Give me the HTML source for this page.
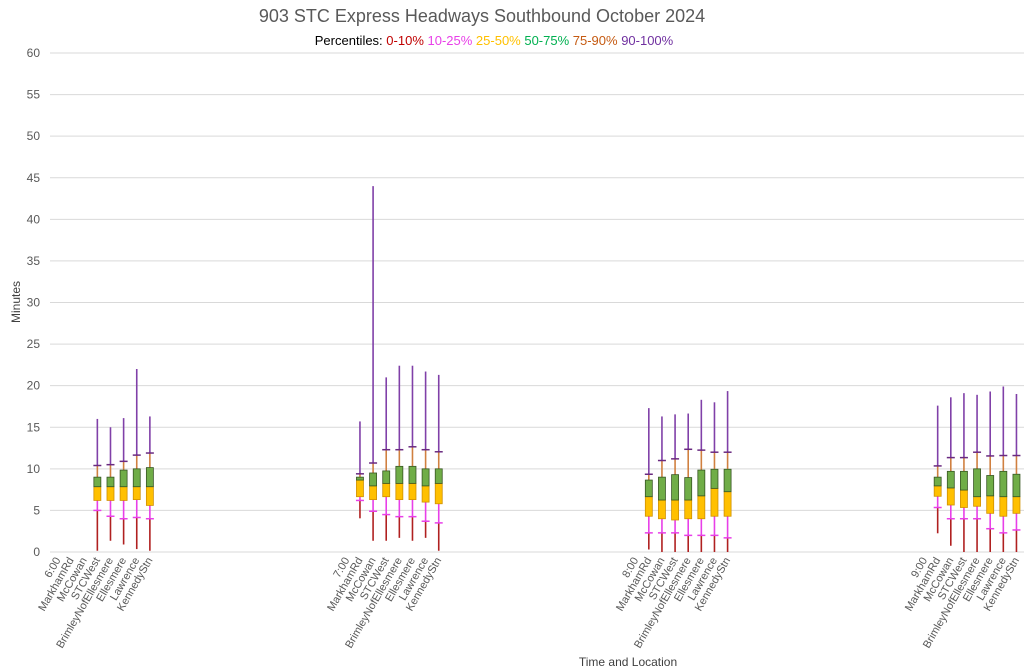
<!DOCTYPE html>
<html><head><meta charset="utf-8"><style>
html,body{margin:0;padding:0;background:#fff;}
svg{display:block;font-family:"Liberation Sans",sans-serif;}
</style></head><body>
<svg id="chart" width="1024" height="670" xmlns="http://www.w3.org/2000/svg">
<text x="482" y="22" text-anchor="middle" font-size="18" fill="#595959">903 STC Express Headways Southbound October 2024</text>
<text x="494" y="45" text-anchor="middle" font-size="13"><tspan fill="#000">Percentiles:  </tspan><tspan fill="#C00000">0-10%  </tspan><tspan fill="#E83FE8">10-25%  </tspan><tspan fill="#FFC000">25-50%  </tspan><tspan fill="#00B050">50-75%  </tspan><tspan fill="#C55A11">75-90%  </tspan><tspan fill="#7030A0">90-100%</tspan></text>
<text transform="translate(20,302) rotate(-90)" text-anchor="middle" font-size="12" fill="#404040">Minutes</text>
<text x="628" y="666" text-anchor="middle" font-size="12" fill="#404040">Time and Location</text>
<g id="grid"></g><g id="marks"></g><g id="xlabels"></g>
</svg>
<script>
const yTicks=[0,5,10,15,20,25,30,35,40,45,50,55,60];
const hours=["6:00","7:00","8:00","9:00"];
const stops=["MarkhamRd","McCowan","STCWest","BrimleyNofEllesmere","Ellesmere","Lawrence","KennedyStn"];
// per box: hour index, stop index
const boxHour=[0,0,0,0,0, 1,1,1,1,1,1,1, 2,2,2,2,2,2,2, 3,3,3,3,3,3,3];
const boxStop=[2,3,4,5,6, 0,1,2,3,4,5,6, 0,1,2,3,4,5,6, 0,1,2,3,4,5,6];
const p0  =[0.15,1.35,0.9,0.35,0.15, 4.05,1.35,1.35,1.7,1.35,1.7,0.15, 0.3,0,0,0,0,0,0, 2.25,0.75,0,0,0,0,0];
const p10 =[5.0,4.3,4.0,4.15,4.0, 6.2,4.9,4.5,4.25,4.25,3.7,3.5, 2.3,2.3,2.3,2.0,2.0,2.0,1.7, 5.35,4.0,4.0,4.0,2.8,2.3,2.65];
const p25 =[6.2,6.2,6.2,6.3,5.6, 6.65,6.3,6.65,6.3,6.3,6.0,5.8, 4.3,4.0,3.85,4.0,4.0,4.3,4.3, 6.7,5.65,5.35,5.5,4.65,4.3,4.65];
const p50 =[7.85,7.85,7.85,7.85,7.85, 8.65,7.95,8.25,8.25,8.25,7.95,8.25, 6.65,6.25,6.25,6.25,6.75,7.65,7.25, 7.95,7.7,7.45,6.65,6.75,6.65,6.65];
const p75 =[9.0,9.0,9.85,10.0,10.15, 9.0,9.5,9.75,10.3,10.3,10.0,10.0, 8.65,9.0,9.3,8.95,9.85,9.95,9.95, 9.0,9.7,9.7,10.0,9.2,9.7,9.35];
const p90 =[10.4,10.5,10.9,11.65,11.9, 9.4,10.7,12.3,12.3,12.65,12.3,12.05, 9.35,11.0,11.2,12.35,12.25,12.0,12.0, 10.35,11.35,11.35,12.0,11.55,11.6,11.6];
const p100=[16.0,15.0,16.1,22.0,16.3, 15.7,44.0,21.0,22.4,22.4,21.7,21.3, 17.3,16.3,16.55,16.65,18.3,18.0,19.35, 17.6,18.6,19.1,18.9,19.3,19.9,19.0];

const NS="http://www.w3.org/2000/svg";
const X0=51.4, CW=13.13, GROUP=22, Y0=552, YS=(552-53)/60;
const y=v=>Y0-v*YS;
const catIndex=(h,s)=>h*GROUP+(s<0?0:s+1);
const x=i=>X0+(i+0.5)*CW;
function mk(tag,attrs,parent){const e=document.createElementNS(NS,tag);for(const k in attrs)e.setAttribute(k,attrs[k]);parent.appendChild(e);return e;}
const grid=document.getElementById('grid'),marks=document.getElementById('marks'),xl=document.getElementById('xlabels');
yTicks.forEach(t=>{
  const l=mk('line',{x1:50,x2:1024,y1:y(t),y2:y(t),stroke:'#d9d9d9','stroke-width':1},grid);
  
  
  const tx=mk('text',{x:40,y:y(t)+4,'text-anchor':'end','font-size':12,fill:'#595959'},grid);
  tx.textContent=t;
  
  
});
function label(i,txt){
  const cx=x(i)+3, cy=560;
  const t=mk('text',{transform:`translate(${cx},${cy}) rotate(-60)`,'text-anchor':'end','font-size':11,fill:'#595959'},xl);
  t.textContent=txt;
  
  
}
hours.forEach((h,hi)=>{label(catIndex(hi,-1),h);stops.forEach((s,si)=>label(catIndex(hi,si),s));});
boxHour.forEach((h,k)=>{
  const cx=x(catIndex(h,boxStop[k]));
  const g=mk('g',{},marks);
  
  
  const seg=(a,b,c)=>mk('line',{x1:cx,x2:cx,y1:y(a),y2:y(b),stroke:c,'stroke-width':1.6},g);
  seg(p0[k],p10[k],'#B02020');
  seg(p10[k],p25[k],'#E83FE8');
  seg(p75[k],p90[k],'#D08040');
  seg(p90[k],p100[k],'#8040A8');
  mk('line',{x1:cx-4,x2:cx+4,y1:y(p10[k]),y2:y(p10[k]),stroke:'#E83FE8','stroke-width':1.5},g);
  mk('line',{x1:cx-4,x2:cx+4,y1:y(p90[k]),y2:y(p90[k]),stroke:'#6A2A80','stroke-width':1.5},g);
  mk('rect',{x:cx-3.5,y:y(p50[k]),width:7,height:y(p25[k])-y(p50[k]),fill:'#FFC000',stroke:'#D09000','stroke-width':0.8},g);
  mk('rect',{x:cx-3.5,y:y(p75[k]),width:7,height:y(p50[k])-y(p75[k]),fill:'#70AD47',stroke:'#375623','stroke-width':0.8},g);
});
</script>
</body></html>
